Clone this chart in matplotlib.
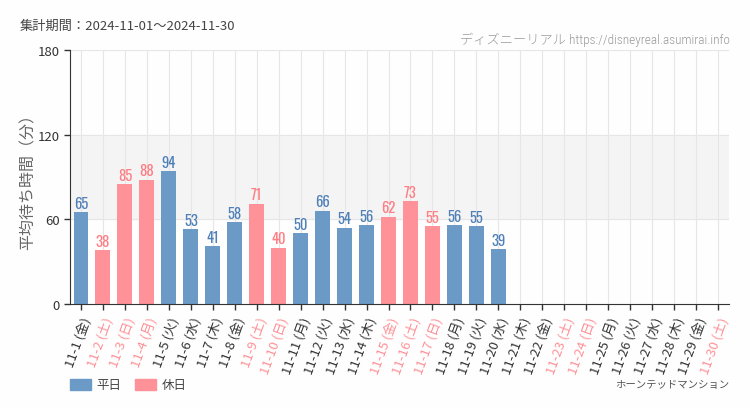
import matplotlib
matplotlib.use("Agg")
import matplotlib.pyplot as plt
from matplotlib.patches import Rectangle

plt.rcParams['font.family'] = ['Noto Sans CJK JP', 'DejaVu Sans']

days = [f"11-{d}" for d in range(1, 31)]
weekdays = ["金", "土", "日", "月", "火", "水", "木"]
day_names = [weekdays[i % 7] for i in range(30)]
values = [65, 38, 85, 88, 94, 53, 41, 58, 71, 40, 50, 66, 54, 56, 62, 73, 55, 56, 55, 39]
holidays = {"11-2", "11-3", "11-4", "11-9", "11-10", "11-15", "11-16", "11-17",
            "11-23", "11-24", "11-30"}
yticks = [0, 60, 120, 180]

BLUE = "#6b9ac7"
PINK = "#ff9198"
BLUE_T = "#4f80b8"
PINK_T = "#ff7e84"

fig = plt.figure(figsize=(7.5, 4.1), dpi=100)
fig.patch.set_facecolor("#fdfefd")
ax = fig.add_axes([70/750, 1-305/410, 659/750, 254/410])
ax.set_facecolor("#fdfefd")

ax.axhspan(60, 120, color="#f4f4f4", zorder=0)
x = list(range(30))
for xi in x:
    ax.axvline(xi, color="#e6e6e6", lw=0.8, zorder=0.5)
for yt in yticks[1:]:
    ax.axhline(yt, color="#e6e6e6", lw=0.8, zorder=0.5)

for i, v in enumerate(values):
    hol = days[i] in holidays
    ax.bar(i, v, width=0.68, color=PINK if hol else BLUE, zorder=2)
    ax.text(i, v + 1.0, str(v), ha="center", va="bottom", fontsize=10.5,
            color=PINK_T if hol else BLUE_T, family=["Oswald", "DejaVu Sans"],
            zorder=3)

ax.set_xlim(-0.5, 29.5)
ax.set_ylim(0, 180)
ax.set_yticks(yticks)
ax.set_yticklabels([str(t) for t in yticks], fontsize=9.5, color="#333333")
ax.set_xticks(x)
labels = [f"{d} ({n})" for d, n in zip(days, day_names)]
ax.set_xticklabels(labels, rotation=70, ha="right", rotation_mode="anchor",
                   fontsize=9.5)
for lab, d in zip(ax.get_xticklabels(), days):
    lab.set_color(PINK if d in holidays else "#333333")
ax.tick_params(axis="both", length=4, color="#333333", width=1)
ax.tick_params(axis="x", pad=4)
for s in ["top", "right"]:
    ax.spines[s].set_visible(False)
for s in ["left", "bottom"]:
    ax.spines[s].set_color("#333333")
ax.set_ylabel("平均待ち時間（分）", fontsize=11.5, color="#666666")
ax.yaxis.set_label_coords(-33/659, 0.5)

fig.text(20/750, 1-26/410, "集計期間：2024-11-01～2024-11-30", fontsize=9.5,
         color="#444444", va="center", ha="left")
fig.text(730/750, 1-40/410, "ディズニーリアル https://disneyreal.asumirai.info",
         fontsize=9.5, color="#999999", va="center", ha="right",
         family=["Roboto Condensed", "Noto Sans CJK JP"], fontweight="light")
fig.text(729/750, 1-385/410, "ホーンテッドマンション", fontsize=7.5, color="#555555",
         va="center", ha="right")

fig.patches.append(Rectangle((70/750, 1-391/410), 21/750, 11/410,
                             transform=fig.transFigure, color=BLUE))
fig.text(96/750, 1-385.5/410, "平日", fontsize=9, color="#444444", va="center")
fig.patches.append(Rectangle((135/750, 1-391/410), 21/750, 11/410,
                             transform=fig.transFigure, color=PINK))
fig.text(162/750, 1-385.5/410, "休日", fontsize=9, color="#444444", va="center")

fig.savefig("out.png", dpi=100, facecolor=fig.get_facecolor())
